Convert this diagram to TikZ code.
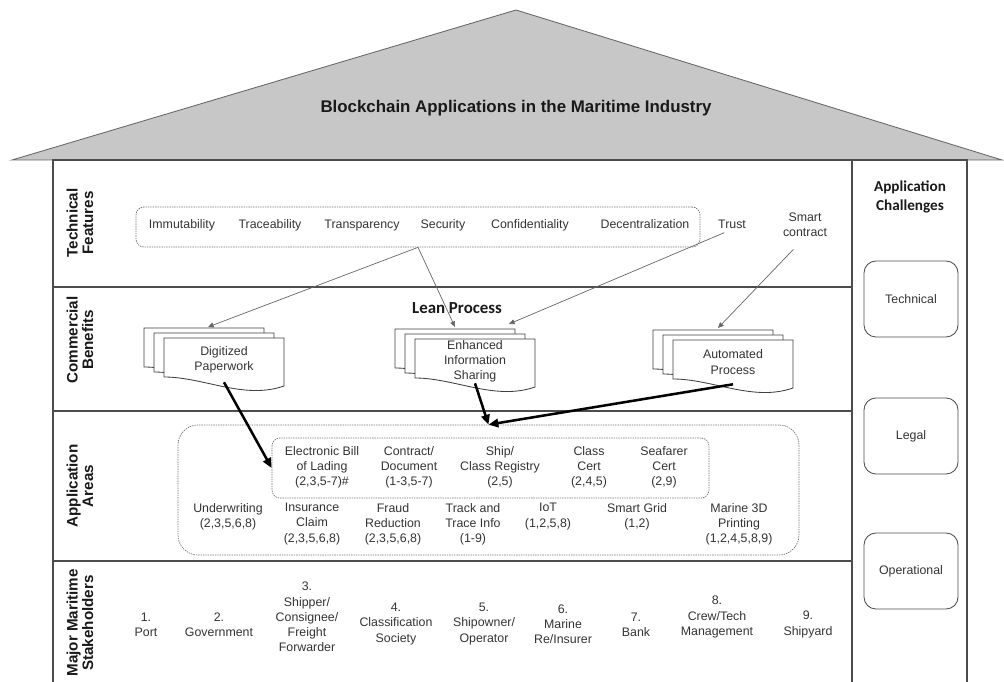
\documentclass[tikz,border=0pt]{standalone}
\usepackage{fontspec}
\setmainfont{Liberation Sans}
\newfontfamily\calib{Carlito}
\usetikzlibrary{arrows.meta,fit}

\tikzset{
  txt/.style={align=center, inner sep=0pt, text=black!80, font=\fontsize{8.8}{10.8}\selectfont},
  rowlabel/.style={align=center, inner sep=0pt, rotate=90, text=black!90, font=\fontsize{10.8}{11}\selectfont\bfseries},
  dashbox/.style={draw=black!55, dash pattern=on 1pt off 0.7pt, line width=0.5pt, inner sep=0pt},
  challenge/.style={txt, draw=black!70, rounded corners=0.3cm, line width=0.6pt, minimum width=2.35cm, minimum height=1.9cm},
  page/.style={fill=white, draw=black!75, line width=0.6pt},
  thinarrow/.style={draw=black!60, line width=0.5pt, -{Triangle[length=4pt,width=3.5pt]}},
  boldarrow/.style={draw=black, line width=1.8pt, -{Triangle[length=7pt,width=6pt]}},
  frame/.style={draw=black!70, line width=0.8pt}
}

\newcommand{\docstack}[4]{%
  \foreach \o in {20,10,0}
    \filldraw[page] (#2-\o,#3-\o/2) -- ++(120,0) -- ++(0,48)
      .. controls +(-40,14) and +(40,0) .. ++(-120,-9) -- cycle;
  \node[txt, minimum width=3cm, minimum height=1.1cm] (#1) at (#2+60,#3+22) {#4};
}

\begin{document}
\begin{tikzpicture}[x=0.025cm, y=-0.025cm]
  \useasboundingbox (0,0) rectangle (1004,682);

  \filldraw[fill=black!22, draw=black!60, line width=0.6pt] (12,160) -- (516,10) -- (1002,160) -- cycle;
  \node[font=\fontsize{12}{14}\selectfont\bfseries, text=black!90] (title) at (516,108) {Blockchain Applications in the Maritime Industry};

  \draw[frame] (53,682) -- (53,160) -- (967,160) -- (967,682);
  \draw[frame] (852,160) -- (852,682);
  \draw[frame] (53,287) -- (852,287);
  \draw[frame] (53,411) -- (852,411);
  \draw[frame] (53,561) -- (852,561);

  \node[rowlabel] (rowtech) at (80,223) {Technical\\Features};
  \node[rowlabel] (rowcomm) at (80,340) {Commercial\\Benefits};
  \node[rowlabel] (rowarea) at (80,486) {Application\\Areas};
  \node[rowlabel] (rowstake) at (80,623) {Major Maritime\\Stakeholders};

  \node[font=\calib\bfseries\fontsize{10.8}{13.5}\selectfont, text=black!90, align=center] (chal) at (910,197) {Application\\Challenges};
  \node[challenge] (chtech) at (911,299) {Technical};
  \node[challenge] (chlegal) at (911,436) {Legal};
  \node[challenge] (chop) at (911,571) {Operational};

  \node[dashbox, rounded corners=0.2cm, fit={(136,207) (700,247)}] (feat) {};
  \node[txt, anchor=base] (immut) at (182,229) {Immutability};
  \node[txt, anchor=base] (trace) at (270,229) {Traceability};
  \node[txt, anchor=base] (transp) at (362,229) {Transparency};
  \node[txt, anchor=base] (secur) at (443,229) {Security};
  \node[txt, anchor=base] (confid) at (530,229) {Confidentiality};
  \node[txt, anchor=base] (decent) at (645,229) {Decentralization};
  \node[txt, anchor=base] (trust) at (732,229) {Trust};
  \node[txt] (smart) at (805,225) {Smart\\contract};

  \docstack{digi}{164}{338}{Digitized\\Paperwork}
  \docstack{enh}{415}{339}{Enhanced\\Information\\Sharing}
  \docstack{auto}{673}{340}{Automated\\Process}
  \node[font=\calib\bfseries\fontsize{12}{14}\selectfont, text=black!90] (lean) at (457,308) {Lean Process};

  \coordinate (digi-in) at (208,327);
  \coordinate (enh-in) at (455,327);
  \coordinate (enh-trust) at (509,324);
  \coordinate (auto-in) at (718,328);

  \draw[thinarrow] (feat.south) -- (digi-in);
  \draw[thinarrow] (feat.south) -- (enh-in);
  \draw[thinarrow, shorten <=6pt] (trust.south) -- (enh-trust);
  \draw[thinarrow, shorten <=12pt] (smart.south) -- (auto-in);

  \node[dashbox, rounded corners=0.5cm, fit={(178,425) (799,555)}] (outer) {};
  \node[dashbox, rounded corners=0.2cm, fit={(272,438) (709,498)}] (inner) {};

  \node[txt] (ebl) at (322,467) {Electronic Bill\\of Lading\\(2,3,5-7)\#};
  \node[txt] (contract) at (409,467) {Contract/\\Document\\(1-3,5-7)};
  \node[txt] (registry) at (500,467) {Ship/\\Class Registry\\(2,5)};
  \node[txt] (classcert) at (589,467) {Class\\Cert\\(2,4,5)};
  \node[txt] (seafarer) at (664,467) {Seafarer\\Cert\\(2,9)};

  \node[txt] (underw) at (228,516.5) {Underwriting\\(2,3,5,6,8)};
  \node[txt] (insur) at (312,524) {Insurance\\Claim\\(2,3,5,6,8)};
  \node[txt] (fraud) at (393,524) {Fraud\\Reduction\\(2,3,5,6,8)};
  \node[txt] (track) at (473,524) {Track and\\Trace Info\\(1-9)};
  \node[txt] (iot) at (548,516.5) {IoT\\(1,2,5,8)};
  \node[txt] (grid) at (637,516.5) {Smart Grid\\(1,2)};
  \node[txt] (printing) at (739,524) {Marine 3D\\Printing\\(1,2,4,5,8,9)};

  \draw[boldarrow] (digi.south) -- (inner.west);
  \draw[boldarrow] (enh.south) -- (outer.north);
  \draw[boldarrow] (auto.south) -- (outer.north);

  \node[txt] (st1) at (146,624.5) {1.\\Port};
  \node[txt] (st2) at (219,624.5) {2.\\Government};
  \node[txt] (st3) at (307,617) {3.\\Shipper/\\Consignee/\\Freight\\Forwarder};
  \node[txt] (st4) at (396,624) {4.\\Classification\\Society};
  \node[txt] (st5) at (484,624) {5.\\Shipowner/\\Operator};
  \node[txt] (st6) at (563,624) {6.\\Marine\\Re/Insurer};
  \node[txt] (st7) at (636,624.5) {7.\\Bank};
  \node[txt] (st8) at (717,617) {8.\\Crew/Tech\\Management};
  \node[txt] (st9) at (808,624.5) {9.\\Shipyard};
\end{tikzpicture}
\end{document}
